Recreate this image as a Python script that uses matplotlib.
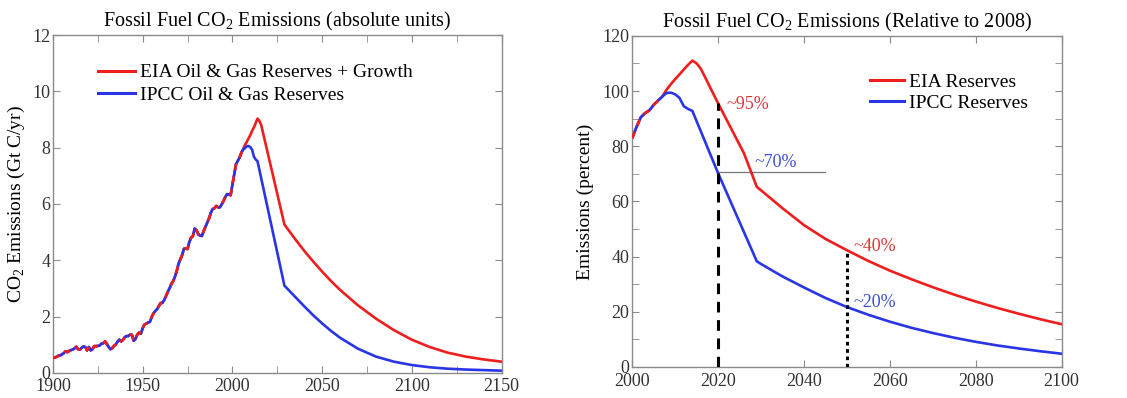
import numpy as np
import matplotlib
matplotlib.use("Agg")
import matplotlib.pyplot as plt

plt.rcParams['font.family'] = ['Liberation Serif', 'DejaVu Serif']
plt.rcParams['mathtext.fontset'] = 'custom'
plt.rcParams['mathtext.rm'] = 'Liberation Serif'

# historical fossil fuel emissions (Gt C/yr), shared by both scenarios
hist_years = np.arange(1900, 2007)
hist_emis = [0.53, 0.55, 0.57, 0.61, 0.62, 0.66, 0.70, 0.77, 0.74, 0.78,
             0.81, 0.83, 0.87, 0.93, 0.84, 0.83, 0.89, 0.94, 0.92, 0.80,
             0.92, 0.80, 0.84, 0.95, 0.95, 0.96, 0.97, 1.04, 1.05, 1.12,
             1.03, 0.93, 0.84, 0.88, 0.96, 1.01, 1.11, 1.18, 1.12, 1.17,
             1.27, 1.31, 1.31, 1.36, 1.35, 1.14, 1.21, 1.36, 1.43, 1.39,
             1.59, 1.72, 1.75, 1.79, 1.81, 1.98, 2.11, 2.20, 2.26, 2.37,
             2.48, 2.49, 2.59, 2.73, 2.88, 3.01, 3.16, 3.26, 3.42, 3.62,
             3.88, 4.03, 4.19, 4.41, 4.42, 4.40, 4.65, 4.80, 4.86, 5.13,
             5.07, 4.92, 4.88, 4.86, 5.04, 5.19, 5.35, 5.49, 5.69, 5.82,
             5.85, 5.93, 5.88, 5.88, 5.98, 6.10, 6.24, 6.35, 6.34, 6.31,
             6.68, 7.05, 7.41, 7.53, 7.65, 7.82, 7.94]

# projections (Gt C/yr)
eia_years = [2006, 2007, 2008, 2009, 2010, 2011, 2012, 2013, 2014, 2015, 2016,
             2029, 2035, 2040, 2045, 2050, 2055, 2060, 2070, 2080, 2090, 2100,
             2110, 2120, 2130, 2140, 2150]
eia_emis = [7.94, 8.1, 8.2, 8.33, 8.45, 8.6, 8.72, 8.88, 9.03, 8.95, 8.82,
            5.27, 4.75, 4.34, 3.96, 3.6, 3.26, 2.95, 2.4, 1.93, 1.52, 1.18,
            0.92, 0.72, 0.58, 0.48, 0.4]
ipcc_years = [2006, 2007, 2008, 2009, 2010, 2011, 2012, 2013, 2014, 2029,
              2035, 2040, 2045, 2050, 2055, 2060, 2070, 2080, 2090, 2100,
              2110, 2120, 2130, 2140, 2150]
ipcc_emis = [7.94, 7.98, 8.05, 8.06, 8.02, 7.92, 7.68, 7.58, 7.52, 3.1,
             2.7, 2.37, 2.05, 1.76, 1.49, 1.25, 0.86, 0.58, 0.4, 0.28,
             0.2, 0.15, 0.12, 0.1, 0.08]

# emissions relative to 2008 (percent)
rel_hist_years = [2000, 2001, 2002, 2003, 2004, 2005, 2006, 2007]
rel_hist = [83, 87, 90.5, 92, 93, 95, 96.5, 98]
rel_eia_years = [2007, 2008, 2009, 2010, 2011, 2012, 2013, 2014, 2015, 2016,
                 2020, 2026, 2029, 2030, 2035, 2040, 2045, 2050, 2055, 2060,
                 2065, 2070, 2075, 2080, 2085, 2090, 2095, 2100]
rel_eia = [98, 100.5, 102.5, 104.3, 106, 107.8, 109.5, 111, 110, 108,
           95.5, 77.5, 65.3, 64, 57.5, 51.4, 46.4, 42.3, 38.4, 34.9,
           31.8, 28.9, 26.2, 23.7, 21.4, 19.3, 17.3, 15.5]
rel_ipcc_years = [2007, 2008, 2009, 2010, 2011, 2012, 2013, 2014, 2020, 2029,
                  2030, 2035, 2040, 2045, 2050, 2055, 2060, 2065, 2070, 2075,
                  2080, 2085, 2090, 2095, 2100]
rel_ipcc = [98, 99.3, 99.4, 98.8, 97.5, 94.5, 93.5, 92.8, 70.2, 38.3,
            37.3, 32.8, 28.8, 25, 21.7, 18.9, 16.4, 14.2, 12.3, 10.6,
            9.1, 7.8, 6.7, 5.7, 4.8]

red = '#ee1e1e'
blue = '#2a35e6'
grey = '#8a8a8a'
lw = 1.9


def style_axes(ax):
    for s in ax.spines.values():
        s.set_color(grey)
        s.set_linewidth(1.0)
    ax.tick_params(which='both', direction='in', top=True, right=True,
                   color=grey, labelcolor='#333333', labelsize=13, length=5, pad=2)
    ax.tick_params(axis='x', pad=4)


fig = plt.figure(figsize=(11.27, 3.98), dpi=100)

# left panel: absolute emissions
ax1 = fig.add_axes([0.047, 0.063, 0.398, 0.849])
ax1.plot(list(hist_years) + eia_years[1:], hist_emis + eia_emis[1:], color=red, lw=lw,
         label='EIA Oil & Gas Reserves + Growth')
ax1.plot(list(hist_years) + ipcc_years[1:], hist_emis + ipcc_emis[1:], color=blue, lw=lw,
         label='IPCC Oil & Gas Reserves')
# red dashes over the shared history so both colours show
ax1.plot(hist_years, hist_emis, color=red, lw=lw, linestyle=(0, (2.5, 2.5)), zorder=3)
ax1.set_xlim(1900, 2150)
ax1.set_ylim(0, 12)
ax1.set_xticks(np.arange(1900, 2151, 50))
ax1.set_xticks(np.arange(1925, 2150, 50), minor=True)
ax1.set_yticks(np.arange(0, 13, 2))
style_axes(ax1)
ax1.set_title('Fossil Fuel CO$_2$ Emissions (absolute units)', fontsize=14.5, pad=6)
ax1.set_ylabel('CO$_2$ Emissions (Gt C/yr)', fontsize=14, labelpad=4)
leg1 = ax1.legend(loc='upper left', bbox_to_anchor=(0.1, 0.915), frameon=False,
                  fontsize=14, handlelength=1.9, handletextpad=0.25,
                  labelspacing=0.25, borderpad=0, borderaxespad=0)
for h in leg1.get_lines():
    h.set_linewidth(2.2)

# right panel: relative to 2008
ax2 = fig.add_axes([0.561, 0.078, 0.381, 0.832])
ax2.plot(rel_hist_years + rel_eia_years[1:], rel_hist + rel_eia[1:], color=red, lw=lw,
         label='EIA Reserves')
ax2.plot(rel_hist_years + rel_ipcc_years[1:], rel_hist + rel_ipcc[1:], color=blue, lw=lw,
         label='IPCC Reserves')
ax2.plot(rel_hist_years, rel_hist, color=red, lw=lw, linestyle=(0, (2.5, 2.5)), zorder=3)
ax2.set_xlim(2000, 2100)
ax2.set_ylim(0, 120)
ax2.set_xticks(np.arange(2000, 2101, 20))
ax2.set_yticks(np.arange(0, 121, 20))
ax2.set_yticks(np.arange(10, 120, 20), minor=True)
style_axes(ax2)
ax2.set_title('Fossil Fuel CO$_2$ Emissions (Relative to 2008)', fontsize=14.5, pad=6)
ax2.set_ylabel('Emissions (percent)', fontsize=14, labelpad=6)
leg2 = ax2.legend(loc='upper left', bbox_to_anchor=(0.553, 0.887), frameon=False,
                  fontsize=14, handlelength=1.75, handletextpad=0.25,
                  labelspacing=0.17, borderpad=0, borderaxespad=0)
for h in leg2.get_lines():
    h.set_linewidth(2.2)

# markers for 2020 and 2050
ax2.plot([2020, 2020], [0, 95.5], color='black', lw=2.2, linestyle=(0, (3.5, 2.5)), zorder=4)
ax2.plot([2050, 2050], [0, 42.3], color='black', lw=2.2, linestyle=(0, (1.2, 1.2)), zorder=4)
ax2.plot([2020, 2045], [70.5, 70.5], color='#777777', lw=0.9, zorder=1)
ax2.text(2022, 95, '~95%', color='#e03535', fontsize=13, va='center')
ax2.text(2028.5, 74, '~70%', color='#3a4fd8', fontsize=13, va='center')
ax2.text(2051.5, 43.5, '~40%', color='#e03535', fontsize=13, va='center')
ax2.text(2051.5, 23.5, '~20%', color='#3a4fd8', fontsize=13, va='center')

fig.savefig('out.png', dpi=100)
